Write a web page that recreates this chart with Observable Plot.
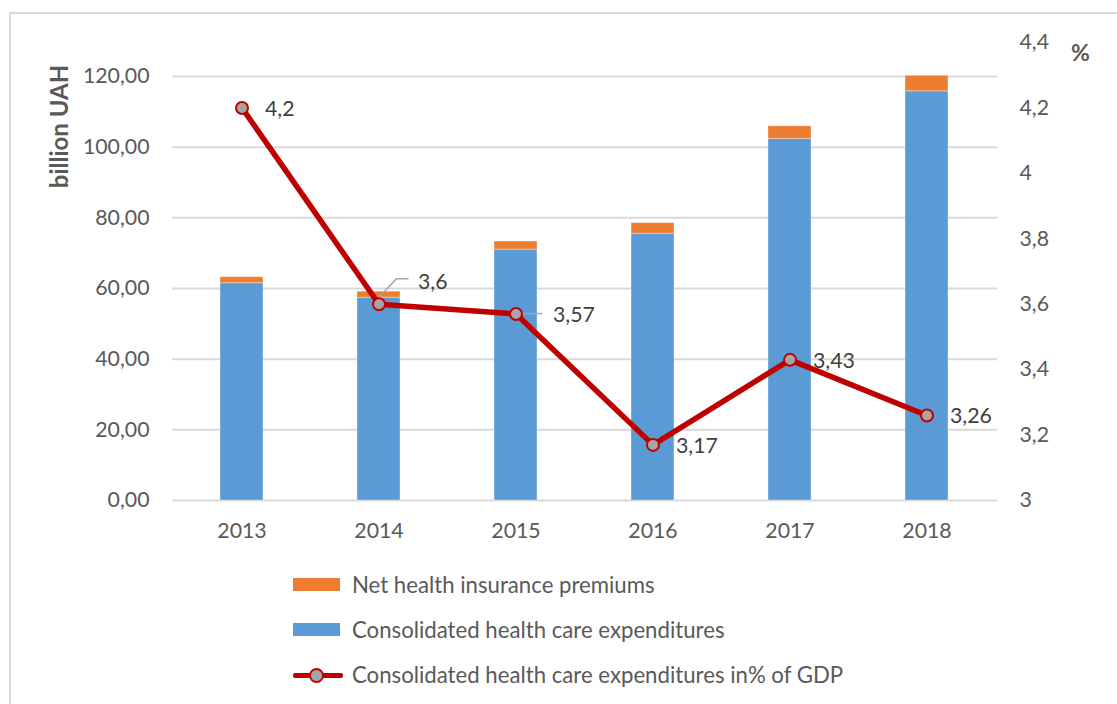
<!DOCTYPE html>
<html>
<head>
<meta charset="utf-8">
<script src="https://cdn.jsdelivr.net/npm/d3@7"></script>
<script src="https://cdn.jsdelivr.net/npm/@observablehq/plot@0.6"></script>
<style>
  html, body { margin: 0; padding: 0; background: #fff; }
  body { width: 1117px; height: 704px; position: relative; overflow: hidden; font-family: Lato, "Open Sans", sans-serif; }
  #frame { position: absolute; left: 9px; top: 12px; width: 1120px; height: 720px; border: 2px solid #d9d9d9; box-sizing: border-box; }
  #chart { position: absolute; left: 0; top: 0; }
  #legend { position: absolute; left: 293px; top: 562px; color: #595959; font-size: 22.2px; }
  .item { height: 45px; display: flex; align-items: center; }
  .sw { width: 47px; height: 13px; margin-right: 12px; }
  .ln { width: 50px; height: 20px; margin-right: 9px; position: relative; }
  .ln .bar { position: absolute; left: 0; right: 0; top: 8px; height: 5px; background: #c00000; border-radius: 2px; }
  .ln .dot { position: absolute; left: 16px; top: 3px; width: 11px; height: 11px; border-radius: 50%; background: #a5a5a5; border: 2px solid #c00000; }
</style>
</head>
<body>
<div id="frame"></div>
<div id="chart"></div>
<div id="legend"></div>
<script>
// ---- data ----
const years = ["2013", "2014", "2015", "2016", "2017", "2018"];
const consolidated = [61.5, 57.4, 71.0, 75.5, 102.3, 115.8];   // billion UAH
const premiums = [1.7, 1.7, 2.3, 3.0, 3.6, 4.4];              // billion UAH
const pctGDP = [4.2, 3.6, 3.57, 3.17, 3.43, 3.26];            // % of GDP
const leftTicks = [0, 20, 40, 60, 80, 100, 120];
const rightTicks = [3, 3.2, 3.4, 3.6, 3.8, 4, 4.2, 4.4];
const seriesNames = ["Consolidated health care expenditures", "Net health insurance premiums"];
const lineName = "Consolidated health care expenditures in% of GDP";

// ---- styling ----
const blue = "#5b9bd5", orange = "#ed7d31", red = "#c00000", grey = "#a5a5a5";
const textColor = "#595959";
const font = "Lato, 'Open Sans', sans-serif";
const fs = 21.3;

// Right axis (3..4.4) mapped into left-axis units so both share the y scale
const leftMaxVisible = 120 * 458 / 424;       // top of plot area in left units
const toLeft = v => (v - 3) / 1.4 * leftMaxVisible;
const fmtLeft = d => d.toFixed(2).replace(".", ",");
const fmtRight = d => String(+d.toFixed(1)).replace(".", ",");
const fmtPct = d => String(d).replace(".", ",");

const stacked = [];
years.forEach((y, i) => {
  stacked.push({year: y, series: seriesNames[0], value: consolidated[i]});
  stacked.push({year: y, series: seriesNames[1], value: premiums[i]});
});
const pts = years.map((y, i) => ({year: y, pct: pctGDP[i], yl: toLeft(pctGDP[i]), label: fmtPct(pctGDP[i])}));

// leader lines for two labels, drawn with the plot's scales
function leaders(index, scales) {
  const x = scales.x, y = scales.y;
  const bw = x.bandwidth ? x.bandwidth() / 2 : 0;
  const g = d3.create("svg:g").attr("stroke", "#a6a6a6").attr("stroke-width", 1.5).attr("fill", "none");
  const p1 = pts[1];
  const x1 = x(p1.year) + bw, y1 = y(p1.yl);
  g.append("path").attr("d", `M${x1},${y1 - 6}L${x1 + 18},${y1 - 25}L${x1 + 30},${y1 - 25}`);
  const p2 = pts[2];
  const x2 = x(p2.year) + bw, y2 = y(p2.yl);
  g.append("path").attr("d", `M${x2 + 6},${y2}L${x2 + 27},${y2}`);
  return g.node();
}

const chart = Plot.plot({
  width: 1117,
  height: 560,
  marginLeft: 172,
  marginRight: 120,
  marginTop: 42,
  marginBottom: 60,
  style: {fontFamily: font, fontSize: fs + "px", color: textColor, background: "transparent"},
  x: {domain: years, paddingInner: 0.684, paddingOuter: 0.342, axis: null},
  y: {domain: [0, leftMaxVisible], axis: null},
  color: {domain: seriesNames, range: [blue, orange]},
  marks: [
    Plot.ruleY(leftTicks, {stroke: "#d9d9d9", strokeWidth: 2}),
    Plot.barY(stacked, {x: "year", y: "value", fill: "series", order: seriesNames, stroke: "#fff", strokeOpacity: 0.35, strokeWidth: 1}),
    Plot.line(pts, {x: "year", y: "yl", stroke: red, strokeWidth: 5.5, strokeLinejoin: "round"}),
    leaders,
    Plot.dot(pts, {x: "year", y: "yl", r: 6, fill: grey, stroke: red, strokeWidth: 2}),
    // data labels
    Plot.text(pts, {filter: (d, i) => i === 0 || i >= 3, x: "year", y: "yl", text: "label", textAnchor: "start", dx: 23, dy: 1, fill: "#404040", fontSize: fs}),
    Plot.text(pts, {filter: (d, i) => i === 1, x: "year", y: "yl", text: "label", textAnchor: "start", dx: 39, dy: -22, fill: "#404040", fontSize: fs}),
    Plot.text(pts, {filter: (d, i) => i === 2, x: "year", y: "yl", text: "label", textAnchor: "start", dx: 37, dy: 1, fill: "#404040", fontSize: fs}),
    // left axis labels
    Plot.text(leftTicks, {y: d => d, text: fmtLeft, frameAnchor: "left", textAnchor: "end", dx: -23, fill: textColor, fontSize: fs}),
    // right axis labels
    Plot.text(rightTicks, {y: toLeft, text: fmtRight, frameAnchor: "right", textAnchor: "start", dx: 22, fill: textColor, fontSize: fs}),
    // x axis labels
    Plot.text(years, {x: d => d, text: d => d, frameAnchor: "bottom", lineAnchor: "middle", dy: 31, fill: textColor, fontSize: fs}),
    // axis titles
    Plot.text(["billion UAH"], {frameAnchor: "top-left", lineAnchor: "middle", textAnchor: "middle", dx: -112, dy: 84, rotate: -90, fontWeight: "bold", fill: textColor, fontSize: 24}),
    Plot.text(["%"], {frameAnchor: "top-right", lineAnchor: "middle", textAnchor: "middle", dx: 83, dy: 11, fontWeight: "bold", fill: textColor, fontSize: 23})
  ]
});
document.getElementById("chart").appendChild(chart);

// legend
const legend = document.getElementById("legend");
legend.innerHTML =
  `<div class="item"><div class="sw" style="background:${orange}"></div>${seriesNames[1]}</div>` +
  `<div class="item"><div class="sw" style="background:${blue}"></div>${seriesNames[0]}</div>` +
  `<div class="item"><div class="ln"><div class="bar"></div><div class="dot"></div></div>${lineName}</div>`;
</script>
</body>
</html>
